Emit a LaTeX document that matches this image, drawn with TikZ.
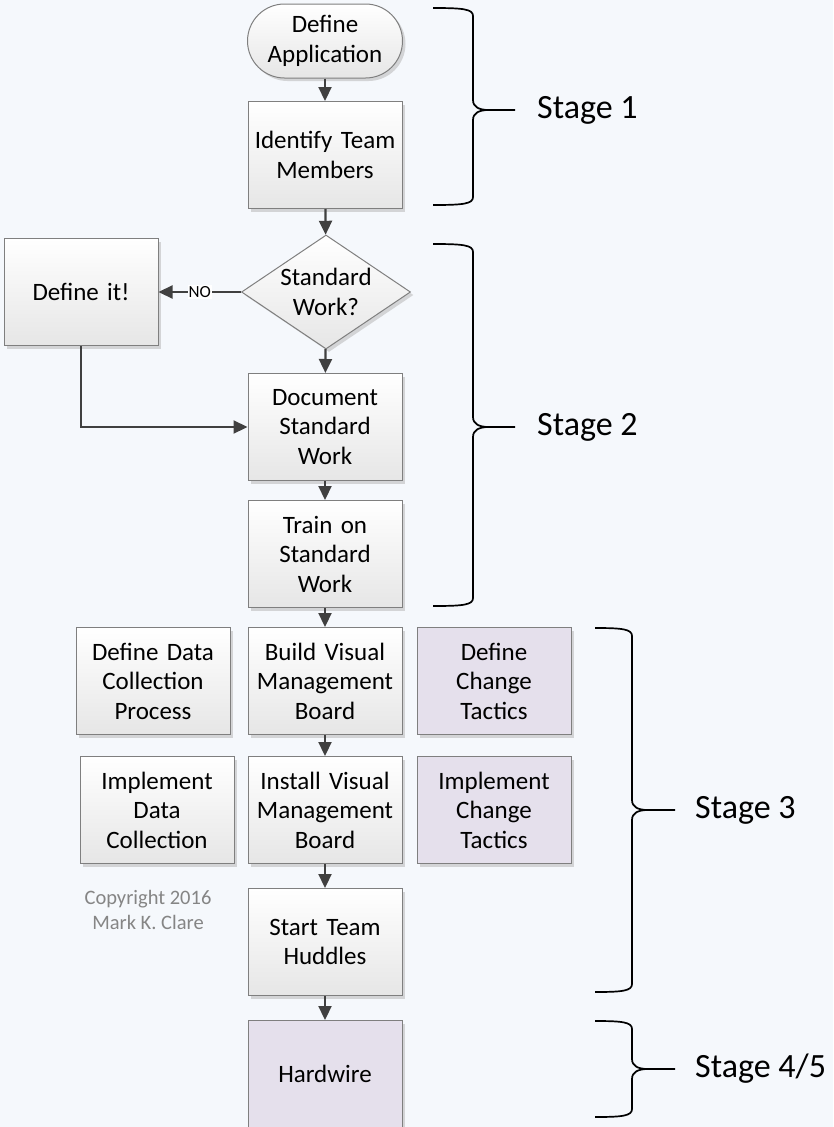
\documentclass[tikz,border=0pt]{standalone}
\usepackage{fontspec}
\setmainfont{Carlito}
\usetikzlibrary{shapes.geometric,arrows.meta,shadows}
\definecolor{bgc}{HTML}{F5F8FC}
\definecolor{boxline}{HTML}{7F7F7F}
\definecolor{boxbot}{HTML}{E6E6E6}
\definecolor{lav}{HTML}{E5E0EC}
\definecolor{arrc}{HTML}{404040}
\definecolor{copyc}{HTML}{858585}
\newcommand\stagebrace[6]{%
  \draw[bracec] (#1,#4) .. controls (#2-10,#4) and (#2,#4+1) .. (#2,#4+8)
    -- (#2,#5-10) .. controls (#2,#5-3) and (#2+6,#5) .. (#2+16,#5) -- (#3,#5);
  \draw[bracec] (#1,#6) .. controls (#2-10,#6) and (#2,#6-1) .. (#2,#6-8)
    -- (#2,#5+10) .. controls (#2,#5+3) and (#2+6,#5) .. (#2+16,#5);
}
\begin{document}
\begin{tikzpicture}[x=1pt,y=-1pt,
  boxfont/.style={font=\fontsize{25}{29.5}\selectfont},
  stepbox/.style={boxfont, draw=boxline, line width=1pt, top color=white, bottom color=boxbot,
    minimum width=154, minimum height=107, text width=150, align=center, inner sep=0,
    drop shadow={shadow xshift=3pt, shadow yshift=-3pt, fill=black!30, opacity=0.5}},
  lavbox/.style={stepbox, top color=lav, bottom color=lav},
  termbox/.style={stepbox, rounded corners=37pt, minimum height=74, minimum width=155},
  decbox/.style={diamond, draw=boxline, line width=1pt, top color=white, bottom color=boxbot,
    minimum width=169, minimum height=114, inner sep=0,
    drop shadow={shadow xshift=3pt, shadow yshift=-3pt, fill=black!30, opacity=0.5}},
  arr/.style={draw=arrc, line width=2.2pt, -{Triangle[length=14pt,width=13pt]}},
  bracec/.style={draw=black, line width=1.7pt},
  stagelbl/.style={anchor=west, font=\fontsize{34}{40}\selectfont, inner sep=0},
  ]
\fill[bgc] (0,0) rectangle (833,1127);
\useasboundingbox (0,0) rectangle (833,1127);

\node[termbox] (app) at (325,41) {Define\\Application};
\node[stepbox] (team) at (325,155) {Identify Team\\Members};
\node[decbox] (sw) at (326,292) {};
\node[boxfont, align=center] (swt) at (326,292) {Standard\\Work?};
\node[stepbox] (defit) at (81,292) {Define it!};
\node[stepbox] (doc) at (325,427) {Document\\Standard\\Work};
\node[stepbox] (train) at (325,554) {Train on\\Standard\\Work};
\node[stepbox] (ddcp) at (153,681) {Define Data\\Collection\\Process};
\node[stepbox] (build) at (325,681) {Build Visual\\Management\\Board};
\node[lavbox] (dct) at (494,681) {Define\\Change\\Tactics};
\node[stepbox] (idc) at (157,810) {Implement\\Data\\Collection};
\node[stepbox] (install) at (325,810) {Install Visual\\Management\\Board};
\node[lavbox] (ict) at (494,810) {Implement\\Change\\Tactics};
\node[stepbox] (huddle) at (325,942) {Start Team\\Huddles};
\node[lavbox] (hard) at (325,1074) {Hardwire};
\node[align=center, text=copyc, font=\fontsize{20.5}{25}\selectfont] (copy) at (148,910) {Copyright 2016\\Mark K. Clare};

\draw[arr] (app) -- (team);
\draw[arr] (team) -- (sw);
\draw[arr] (sw.west) -- node[fill=white, inner sep=1pt, font=\fontsize{17}{19}\selectfont] (no) {NO} (defit.east);
\draw[arr] (sw) -- (doc);
\draw[arr] (defit.south) |- (doc.west);
\draw[arr] (doc) -- (train);
\draw[arr] (train) -- (build);
\draw[arr] (build) -- (install);
\draw[arr] (install) -- (huddle);
\draw[arr] (huddle) -- (hard);

\stagebrace{433}{473}{515}{8}{110}{205}
\stagebrace{433}{473}{515}{244}{427}{606}
\stagebrace{595}{632}{675}{628}{810}{992}
\stagebrace{595}{632}{675}{1021}{1069}{1117}
\node[stagelbl] (s1) at (537,110) {Stage 1};
\node[stagelbl] (s2) at (537,427) {Stage 2};
\node[stagelbl] (s3) at (695,810) {Stage 3};
\node[stagelbl] (s45) at (695,1069) {Stage 4/5};
\end{tikzpicture}
\end{document}
